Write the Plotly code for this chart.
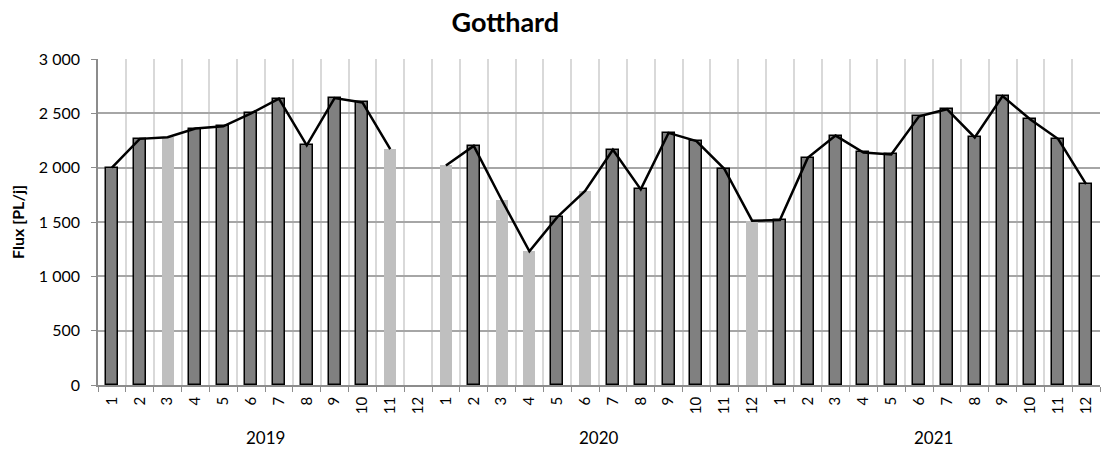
import plotly.graph_objects as go

# Monthly heavy-goods-vehicle flow at Gotthard, 2019-2021
years = ["2019", "2020", "2021"]
months = [str(m) for m in range(1, 13)]

flux_2019 = [2000, 2265, 2280, 2360, 2380, 2500, 2635, 2205, 2640, 2600, 2170, None]
flux_2020 = [2020, 2200, 1705, 1230, 1545, 1785, 2165, 1800, 2320, 2245, 1990, 1512]
flux_2021 = [1518, 2090, 2295, 2140, 2122, 2472, 2538, 2278, 2658, 2444, 2263, 1848]

# Months whose value is estimated (drawn in light grey, without outline)
estimated = {("2019", 3), ("2019", 11),
             ("2020", 1), ("2020", 3), ("2020", 4), ("2020", 6), ("2020", 12)}

values = flux_2019 + flux_2020 + flux_2021
x_idx = list(range(len(values)))
tick_text = months * len(years)

DARK = "#808080"
LIGHT = "#bfbfbf"
bar_colors, bar_line_w = [], []
for y in years:
    for m in range(1, 13):
        if (y, m) in estimated:
            bar_colors.append(LIGHT)
            bar_line_w.append(0)
        else:
            bar_colors.append(DARK)
            bar_line_w.append(1.5)

FONT = "Lato, Carlito, Calibri, 'Open Sans', sans-serif"

fig = go.Figure()
fig.add_trace(go.Bar(
    x=x_idx, y=values, width=0.43,
    marker=dict(color=bar_colors, line=dict(color="#000000", width=bar_line_w)),
    showlegend=False, hoverinfo="y",
))
fig.add_trace(go.Scatter(
    x=x_idx, y=values, mode="lines",
    line=dict(color="#000000", width=2.5),
    connectgaps=False, showlegend=False, hoverinfo="skip",
))

for i, y in enumerate(years):
    fig.add_annotation(
        x=i * 12 + 5.5, y=-0.16, xref="x", yref="paper",
        text=y, showarrow=False, yanchor="middle",
        font=dict(family=FONT, size=17, color="#000000"),
    )

fig.update_layout(
    width=1101, height=450,
    margin=dict(l=98, r=1, t=59, b=65),
    paper_bgcolor="white", plot_bgcolor="white",
    separators=", ",
    title=dict(text="<b>Gotthard</b>", x=0.459, xanchor="center", y=0.95, yanchor="middle",
               font=dict(family=FONT, size=27, color="#000000")),
    font=dict(family=FONT, size=14, color="#000000"),
    bargap=0,
)
fig.update_xaxes(
    range=[-0.5, len(values) - 0.5],
    tickmode="array", tickvals=x_idx, ticktext=tick_text,
    tickangle=-90, ticks="", showgrid=False,
    tickfont=dict(family=FONT, size=15), ticklabelstandoff=4,
    showline=True, linecolor="#8c8c8c", linewidth=1.5,
    minor=dict(tick0=-0.5, dtick=1, ticks="outside", ticklen=5, tickwidth=1.2,
               tickcolor="#8c8c8c", showgrid=True, gridcolor="#d9d9d9", gridwidth=1.5),
    zeroline=False, fixedrange=True,
)
fig.update_yaxes(
    range=[0, 3000], dtick=500, tickformat=",d",
    title=dict(text="<b>Flux [PL/j]</b>", font=dict(family=FONT, size=16), standoff=10),
    tickfont=dict(family=FONT, size=16), ticklabelstandoff=8,
    showgrid=True, gridcolor="#a6a6a6", gridwidth=1.5,
    showline=True, linecolor="#8c8c8c", linewidth=1.5,
    ticks="outside", ticklen=5, tickcolor="#8c8c8c",
    zeroline=False, fixedrange=True,
)

fig.write_html("out.html")
